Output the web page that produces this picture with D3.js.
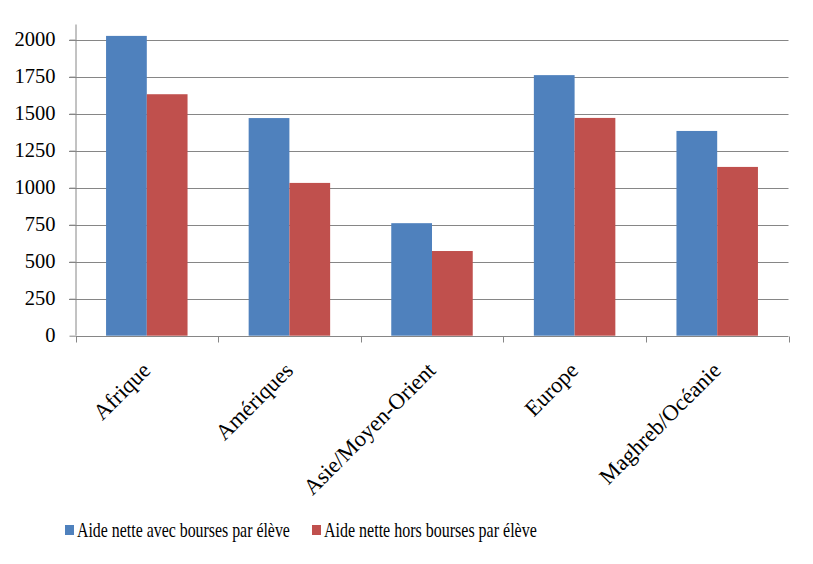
<!DOCTYPE html>
<html><head><meta charset="utf-8">
<script src="https://cdn.jsdelivr.net/npm/d3@7"></script>
<style>body{margin:0;background:#fff}svg{display:block}</style>
</head><body>
<script>
const categories = ["Afrique","Amériques","Asie/Moyen-Orient","Europe","Maghreb/Océanie"];
const seriesNames = ["Aide nette avec bourses par élève","Aide nette hors bourses par élève"];
const avecBourses = [2025,1470,760,1760,1383];
const horsBourses = [1631,1032,572,1471,1140];
const yTicks = [0,250,500,750,1000,1250,1500,1750,2000];
const colors = ["#4F81BD","#C0504D"];

const FONT='"Liberation Serif","Times New Roman",serif';
const W=813,H=564;
const svg=d3.select("body").append("svg").attr("width",W).attr("height",H);
const x0=75.5,x1=788.5,yTop=24.5,yBot=335.7;
const x=d3.scaleBand().domain(categories).range([x0,x1]).paddingInner(0).paddingOuter(0);
const y=d3.scaleLinear().domain([0,2102]).range([yBot,yTop]);
const bw=x.bandwidth();
const xs=d3.scaleBand().domain([0,1]).range([bw*0.75/3.5, bw - bw*0.75/3.5]).padding(0);

// gridlines
svg.append("g").selectAll("line").data(yTicks.slice(1)).join("line")
 .attr("x1",69).attr("x2",x1).attr("y1",d=>Math.round(y(d))+0.5).attr("y2",d=>Math.round(y(d))+0.5)
 .attr("stroke","#868686").attr("stroke-width",1);

// bars
const data=[avecBourses,horsBourses];
const g=svg.append("g");
categories.forEach((c,i)=>{
  data.forEach((s,j)=>{
    g.append("rect").attr("x",x(c)+xs(j)).attr("width",xs.bandwidth())
     .attr("y",y(s[i])).attr("height",yBot-y(s[i])).attr("fill",colors[j]);
  });
});

// y axis
const ya=d3.axisLeft(y).tickValues(yTicks).tickSize(6).tickPadding(10).tickFormat(d3.format("d"));
const yg=svg.append("g").attr("transform",`translate(${x0},0)`).call(ya);
yg.select(".domain").attr("d",`M0.5,${yTop}V${yBot}`).attr("stroke","#868686");
yg.selectAll(".tick line").attr("stroke","#868686");
yg.selectAll(".tick text").style("font-family",FONT).style("font-size","20.5px").attr("x",-20).attr("dy","0.3em").attr("fill","#000");

// x axis
const xa=d3.axisBottom(x).tickSize(0).tickFormat("");
const xg=svg.append("g").attr("transform",`translate(0,${Math.round(yBot)+0.5})`).call(xa);
xg.select(".domain").attr("d",`M${x0},0H${x1}`).attr("stroke","#868686");
const bounds=[x0].concat(categories.map(c=>x(c)+bw));
xg.selectAll(".btick").data(bounds).join("line").attr("class","btick")
 .attr("x1",d=>Math.round(d)+0.5).attr("x2",d=>Math.round(d)+0.5).attr("y1",0).attr("y2",6).attr("stroke","#868686");
svg.append("g").selectAll("text").data(categories).join("text")
 .attr("transform",d=>`translate(${x(d)+bw/2+5},${yBot+36}) rotate(-45)`)
 .attr("text-anchor","end").style("font-family",FONT).style("font-size","22.5px").text(d=>d);

// legend
const leg=svg.append("g");
const legX=[65,312];
seriesNames.forEach((n,i)=>{
  leg.append("rect").attr("x",legX[i]).attr("y",525).attr("width",9).attr("height",10).attr("fill",colors[i]);
  const t=leg.append("text").attr("x",0).attr("y",0).style("font-family",FONT).style("font-size","20.5px").text(n);
  const w=t.node().getComputedTextLength();
  t.attr("transform",`translate(${legX[i]+12},537) scale(${213/w},1)`);
});
</script>
</body></html>
